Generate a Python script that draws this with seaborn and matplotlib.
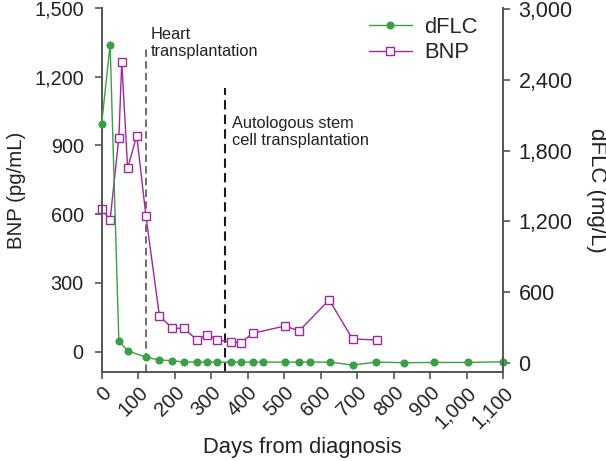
import seaborn as sns
import matplotlib
matplotlib.use('Agg')
import matplotlib.pyplot as plt
from matplotlib.ticker import StrMethodFormatter

# values
days_bnp = [0, 23, 47, 55, 71, 96, 121, 158, 193, 226, 260, 289, 317, 353, 381, 414, 502, 541, 623, 687, 753]
bnp = [623, 575, 934, 1265, 800, 943, 594, 157, 102, 102, 51, 74, 51, 42, 39, 80, 112, 90, 226, 55, 51]

days_dflc = [0, 23, 47, 71, 121, 158, 193, 226, 260, 289, 317, 353, 381, 414, 443, 502, 541, 571, 625,
             687, 751, 828, 911, 1004, 1100]
dflc = [2030, 2700, 182, 102, 46, 23, 17, 6, 5, 5, 5, 5, 5, 5, 5, 5, 5, 5, 5, -20, 5, 0, 2, 2, 8]

heart_day = 121
asct_day = 338

x_ticks = list(range(0, 1101, 100))
bnp_ticks = [0, 300, 600, 900, 1200, 1500]
dflc_ticks = [0, 600, 1200, 1800, 2400, 3000]

green = '#3b9f45'
magenta = '#a3259f'
spine_col = '#555555'
text_col = '#222222'

sns.set_style('ticks')
plt.rcParams['font.family'] = ['Liberation Sans', 'DejaVu Sans']

fig = plt.figure(figsize=(6.06, 4.61), dpi=100)
ax = fig.add_axes([101.7 / 606, 1 - 372 / 461, (503.3 - 101.7) / 606, (372 - 8) / 461])
ax2 = ax.twinx()

sns.lineplot(x=days_bnp, y=bnp, ax=ax, color=magenta, lw=1.0, marker='s', markersize=5.5,
             markerfacecolor='white', markeredgecolor=magenta, markeredgewidth=1.0,
             label='BNP', legend=False, clip_on=False)
sns.lineplot(x=days_dflc, y=dflc, ax=ax2, color=green, lw=1.0, marker='o', markersize=5.8,
             markerfacecolor=green, markeredgecolor=green, markeredgewidth=0,
             label='dFLC', legend=False, clip_on=False)

# event lines
ax.vlines(heart_day, -89, 1330, colors='#555555', linestyles=(0, (4.5, 2.5)), lw=1.2, zorder=1)
ax.vlines(asct_day, -89, 1150, colors='#1a1a1a', linestyles=(0, (4.5, 2.5)), lw=1.5, zorder=1)
ax.text(heart_day + 12, 1418, 'Heart\ntransplantation', fontsize=11.8, color=text_col,
        va='top', ha='left', linespacing=1.15)
ax.text(asct_day + 18, 1028, 'Autologous stem\ncell transplantation', fontsize=11.8, color=text_col,
        va='top', ha='left', linespacing=1.15)

ax.set_xlim(0, 1100)
ax.set_ylim(-89, 1500)
ax2.set_ylim(-79, 3011)
ax.set_xticks(x_ticks)
ax.set_yticks(bnp_ticks)
ax2.set_yticks(dflc_ticks)
fmt = StrMethodFormatter('{x:,.0f}')
ax.xaxis.set_major_formatter(fmt)
ax.yaxis.set_major_formatter(fmt)
ax2.yaxis.set_major_formatter(fmt)

for a in (ax, ax2):
    a.spines['top'].set_visible(False)
    for s in ('left', 'right', 'bottom'):
        a.spines[s].set_color(spine_col)
        a.spines[s].set_linewidth(1.4)
    a.tick_params(colors=spine_col, labelcolor=text_col, width=1.2, length=5)

ax.spines['right'].set_visible(False)
ax2.spines['left'].set_visible(False)
ax2.spines['bottom'].set_visible(False)

ax.tick_params(axis='y', labelsize=14.3, pad=8)
ax.tick_params(axis='x', labelsize=14.5, pad=3)
ax2.tick_params(axis='y', labelsize=15.5, pad=6)
for lab in ax.get_xticklabels():
    lab.set_rotation(45)
    lab.set_ha('right')
    lab.set_rotation_mode('anchor')

ax.set_xlabel('Days from diagnosis', fontsize=15.8, color=text_col, labelpad=4)
ax.set_ylabel('BNP (pg/mL)', fontsize=14.7, color=text_col, labelpad=6)
ax2.set_ylabel('dFLC (mg/L)', fontsize=16, color=text_col, rotation=270, labelpad=25)

h2, l2 = ax2.get_legend_handles_labels()
h1, l1 = ax.get_legend_handles_labels()
ax2.legend(h2 + h1, l2 + l1, loc='upper left', bbox_to_anchor=(369 / 606, 1 - 17 / 461),
           bbox_transform=fig.transFigure, frameon=False, fontsize=15.8, borderpad=0,
           borderaxespad=0, handlelength=1.95, handletextpad=0.55, labelspacing=0.2)

fig.savefig('out.png', dpi=100)
